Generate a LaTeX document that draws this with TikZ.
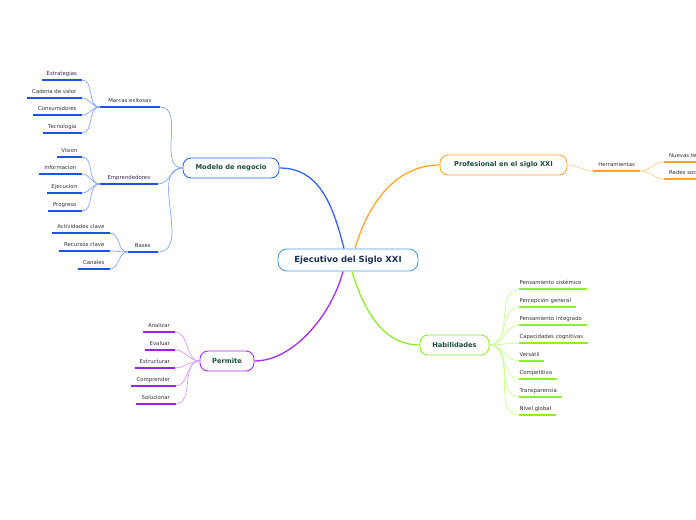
\documentclass[tikz,border=0pt]{standalone}
\usepackage{fontspec}
\setmainfont{DejaVu Sans}
\definecolor{bmain}{HTML}{2F64F5}
\definecolor{bsub}{HTML}{8AA8FF}
\definecolor{bul}{HTML}{1F52E8}
\definecolor{omain}{HTML}{FFA62B}
\definecolor{osub}{HTML}{FFD18F}
\definecolor{oul}{HTML}{F7A42C}
\definecolor{gmain}{HTML}{8CEB2A}
\definecolor{gsub}{HTML}{C9FF95}
\definecolor{gul}{HTML}{8EEE30}
\definecolor{pmain}{HTML}{A52BF0}
\definecolor{psub}{HTML}{D6A2FF}
\definecolor{pul}{HTML}{9B22E6}
\definecolor{cborder}{HTML}{4CA2DA}
\definecolor{maintext}{HTML}{1E4D3C}
\definecolor{ctext}{HTML}{1B2F55}
\definecolor{leaftext}{HTML}{333333}
\begin{document}
\begin{tikzpicture}[x=1bp,y=-1bp,
  topic/.style={draw, line width=0.9pt, rounded corners=8pt, fill=white, minimum height=20bp, inner sep=0pt, text=maintext, font=\fontsize{6.7}{8}\selectfont\bfseries},
  central/.style={draw=cborder, line width=0.9pt, rounded corners=9pt, fill=white, minimum height=22bp, minimum width=140bp, inner sep=0pt, text=ctext, font=\fontsize{8.5}{10}\selectfont\bfseries},
  leaf/.style={inner xsep=0pt, inner ysep=3.6pt, text height=4.4pt, text depth=1.2pt, text=leaftext, font=\fontsize{5.4}{6.5}\selectfont},
  lleaf/.style={leaf, align=left},
  ul/.style={line width=2bp},
  mainline/.style={line width=1.3pt},
  subline/.style={line width=0.75pt}
]
\useasboundingbox (0,0) rectangle (696,520);
\clip (0,0) rectangle (696,520);
\fill[white] (0,0) rectangle (696,520);

% main nodes
\node[central] (c) at (348,260) {Ejecutivo del Siglo XXI};
\node[topic, draw=bmain, minimum width=96bp] (m) at (231,168) {Modelo de negocio};
\node[topic, draw=omain, minimum width=127bp] (p) at (503.5,165) {Profesional en el siglo XXI};
\node[topic, draw=gmain, minimum width=69bp] (h) at (454.5,345) {Habilidades};
\node[topic, draw=pmain, minimum width=54bp] (pe) at (227,361) {Permite};

% main branches
\draw[mainline, bmain] ([xshift=-4pt]c.north) .. controls +(-12,-48) and +(38,0) .. (m.east);
\draw[mainline, omain] ([xshift=7pt]c.north) .. controls +(14,-48) and +(-42,0) .. (p.west);
\draw[mainline, gmain] ([xshift=4pt]c.south) .. controls +(12,40) and +(-36,0) .. (h.west);
\draw[mainline, pmain] ([xshift=-5pt]c.south) .. controls +(-12,45) and +(38,0) .. (pe.east);

% Modelo de negocio
\node[leaf, anchor=south east, minimum width=60bp] (me) at (160,107) {Marcas exitosas};
\node[leaf, anchor=south east, minimum width=58bp] (em) at (158,184) {Emprendedores};
\node[leaf, anchor=south east, minimum width=30bp] (ba) at (158,252) {Bases};
\foreach \n in {me,em,ba} \draw[subline, bsub] (m.west) to[out=180,in=0] (\n.south east);

\node[leaf, anchor=south east, minimum width=40bp] (l1) at (82,80) {Estrategias};
\node[leaf, anchor=south east, minimum width=55bp] (l2) at (82,98) {Cadena de valor};
\node[leaf, anchor=south east, minimum width=49bp] (l3) at (82,115) {Consumidores};
\node[leaf, anchor=south east, minimum width=39bp] (l4) at (82,133) {Tecnologia};
\foreach \n in {l1,l2,l3,l4} \draw[subline, bsub] (me.south west) to[out=180,in=0] (\n.south east);

\node[leaf, anchor=south east, minimum width=25bp] (e1) at (82,157) {Vision};
\node[leaf, anchor=south east, minimum width=43bp] (e2) at (82,174) {Informacion};
\node[leaf, anchor=south east, minimum width=35bp] (e3) at (82,193) {Ejecucion};
\node[leaf, anchor=south east, minimum width=34bp] (e4) at (82,211) {Progreso};
\foreach \n in {e1,e2,e3,e4} \draw[subline, bsub] (em.south west) to[out=180,in=0] (\n.south east);

\node[leaf, anchor=south east, minimum width=58bp] (b1) at (110,233) {Actividades clave};
\node[leaf, anchor=south east, minimum width=51bp] (b2) at (110,251) {Recursos clave};
\node[leaf, anchor=south east, minimum width=32bp] (b3) at (110,269) {Canales};
\foreach \n in {b1,b2,b3} \draw[subline, bsub] (ba.south west) to[out=180,in=0] (\n.south east);

\foreach \n in {me,em,ba,l1,l2,l3,l4,e1,e2,e3,e4,b1,b2,b3}
  \draw[ul, bul] (\n.south west) -- (\n.south east);

% Profesional
\node[leaf, anchor=south west, minimum width=47bp] (he) at (593,171) {Herramientas};
\draw[subline, osub] (p.east) to[out=0,in=180] (he.south west);
\node[lleaf, anchor=south west, inner xsep=5bp, text width=66bp] (nt) at (664,162) {Nuevas tecnologías};
\node[lleaf, anchor=south west, inner xsep=5bp, text width=52bp] (rs) at (664,179) {Redes sociales};
\foreach \n in {nt,rs} \draw[subline, osub] (he.south east) to[out=0,in=180] (\n.south west);
\foreach \n in {he,nt,rs} \draw[ul, oul] (\n.south west) -- (\n.south east);

% Habilidades
\node[lleaf, anchor=south west, text width=67.4bp] (g1) at (519.3,289) {Pensamiento sistémico};
\node[lleaf, anchor=south west, text width=56.4bp] (g2) at (519.3,307) {Percepción general};
\node[lleaf, anchor=south west, text width=67.7bp] (g3) at (519.3,325) {Pensamiento integrado};
\node[lleaf, anchor=south west, text width=68.4bp] (g4) at (519.3,343) {Capacidades cognitivas};
\node[lleaf, anchor=south west, text width=24.7bp] (g5) at (519.3,361) {Versátil};
\node[lleaf, anchor=south west, text width=37.4bp] (g6) at (519.3,379) {Competitivo};
\node[lleaf, anchor=south west, text width=42.7bp] (g7) at (519.3,397) {Transparencia};
\node[lleaf, anchor=south west, text width=36.7bp] (g8) at (519.3,415) {Nivel global};
\foreach \n in {g1,g2,g3,g4,g5,g6,g7,g8} {
  \draw[subline, gsub] (h.east) to[out=0,in=180] (\n.south west);
  \draw[ul, gul] (\n.south west) -- (\n.south east);
}

% Permite
\node[leaf, anchor=south east, minimum width=31.7bp] (q1) at (175,332) {Analizar};
\node[leaf, anchor=south east, minimum width=30bp] (q2) at (175,350) {Evaluar};
\node[leaf, anchor=south east, minimum width=40bp] (q3) at (175,368) {Estructurar};
\node[leaf, anchor=south east, minimum width=44bp] (q4) at (175.5,386) {Comprender};
\node[leaf, anchor=south east, minimum width=39bp] (q5) at (175.5,404) {Solucionar};
\foreach \n in {q1,q2,q3,q4,q5} {
  \draw[subline, psub] (pe.west) to[out=180,in=0] (\n.south east);
  \draw[ul, pul] (\n.south west) -- (\n.south east);
}
\end{tikzpicture}
\end{document}
